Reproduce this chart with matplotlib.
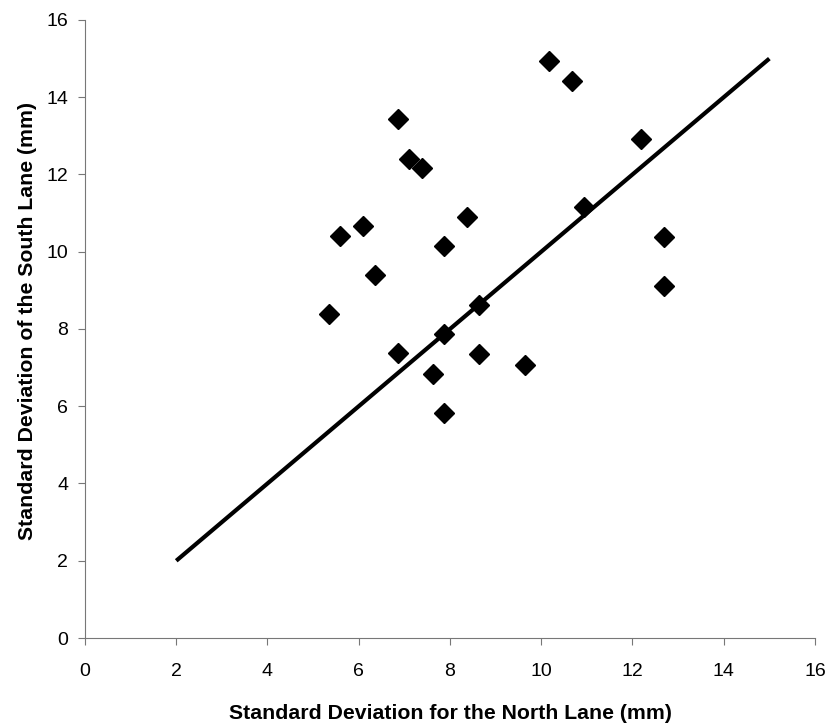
import matplotlib
matplotlib.use("Agg")
import matplotlib.pyplot as plt

plt.rcParams['font.family'] = ['Liberation Sans', 'DejaVu Sans']

# standard deviations (mm)
north_sd = [5.34, 5.59, 6.10, 6.36, 6.87, 6.87, 7.11, 7.38, 7.62, 7.87, 7.87,
            7.87, 8.38, 8.64, 8.64, 9.65, 10.16, 10.67, 10.93, 12.19, 12.70, 12.70]
south_sd = [8.39, 10.40, 10.66, 9.39, 13.43, 7.38, 12.41, 12.16, 6.83, 10.14, 7.87,
            5.83, 10.90, 8.62, 7.34, 7.08, 14.93, 14.42, 11.16, 12.91, 10.37, 9.11]

# equality line
line_x = [2, 15]
line_y = [2, 15]

fig = plt.figure(figsize=(8.3, 7.26), dpi=100)
ax = fig.add_axes([0.1024, 0.1212, 0.8795, 0.8513])

ax.plot(line_x, line_y, color="black", linewidth=3, solid_capstyle="butt", zorder=2)
ax.plot(north_sd, south_sd, linestyle="none", marker="D", markersize=10,
        color="black", zorder=3)

ax.set_xlim(0, 16)
ax.set_ylim(0, 16)
ax.set_xticks(range(0, 17, 2))
ax.set_yticks(range(0, 17, 2))

for side in ["top", "right"]:
    ax.spines[side].set_visible(False)
for side in ["left", "bottom"]:
    ax.spines[side].set_color("#777777")
    ax.spines[side].set_linewidth(0.8)

ax.tick_params(direction="out", length=5, width=0.8, color="#777777",
               labelsize=14)
ax.tick_params(axis="x", pad=13)
ax.tick_params(axis="y", pad=7)

ax.set_xlabel("Standard Deviation for the North Lane (mm)", fontsize=15.3,
              fontweight="bold", labelpad=17)
ax.set_ylabel("Standard Deviation of the South Lane (mm)", fontsize=15.3,
              fontweight="bold", labelpad=7)
ax.yaxis.label.set_y(0.513)

fig.savefig("out.png", dpi=100)
